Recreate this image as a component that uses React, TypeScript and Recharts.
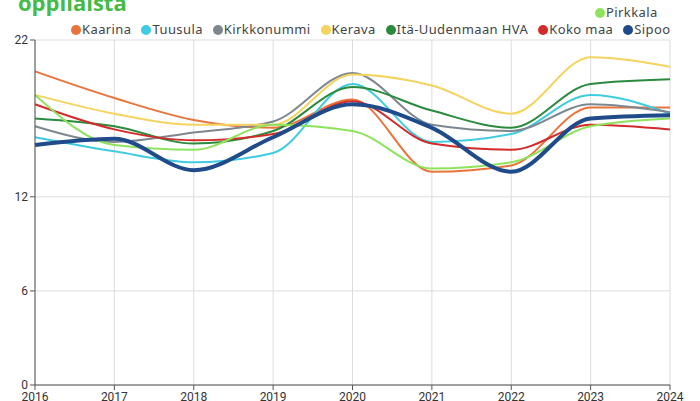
import { LineChart, Line, XAxis, YAxis, CartesianGrid } from "recharts";

const years = [2016, 2017, 2018, 2019, 2020, 2021, 2022, 2023, 2024];

const kaarina = [20.0, 18.3, 16.9, 16.4, 18.2, 13.6, 14.0, 17.7, 17.7];
const tuusula = [15.8, 14.9, 14.2, 14.8, 19.2, 15.5, 16.0, 18.5, 17.3];
const kirkkonummi = [16.5, 15.5, 16.1, 16.8, 19.9, 16.6, 16.2, 17.9, 17.4];
const kerava = [18.5, 17.3, 16.6, 16.6, 19.8, 19.1, 17.3, 20.9, 20.3];
const itaUusimaa = [17.0, 16.5, 15.4, 16.2, 19.0, 17.5, 16.4, 19.2, 19.5];
const kokoMaa = [17.9, 16.3, 15.6, 16.0, 18.1, 15.4, 15.0, 16.6, 16.3];
const sipoo = [15.3, 15.7, 13.7, 15.8, 17.9, 16.4, 13.6, 17.0, 17.2];
const pirkkala = [18.5, 15.3, 15.0, 16.6, 16.2, 13.8, 14.2, 16.5, 17.0];

const series = [
  { key: "kaarina", name: "Kaarina", color: "#e8743b", values: kaarina, width: 2 },
  { key: "tuusula", name: "Tuusula", color: "#3fcbe0", values: tuusula, width: 2 },
  { key: "kirkkonummi", name: "Kirkkonummi", color: "#7d878f", values: kirkkonummi, width: 2 },
  { key: "kerava", name: "Kerava", color: "#f4d35e", values: kerava, width: 2 },
  { key: "ita", name: "Itä-Uudenmaan HVA", color: "#2b8a3e", values: itaUusimaa, width: 2 },
  { key: "koko", name: "Koko maa", color: "#d42a2a", values: kokoMaa, width: 2 },
  { key: "pirkkala", name: "Pirkkala", color: "#8ee35c", values: pirkkala, width: 2 },
  { key: "sipoo", name: "Sipoo", color: "#1f4b8a", values: sipoo, width: 4 },
];

const data = years.map((year, i) => {
  const row: Record<string, number> = { year };
  series.forEach((s) => (row[s.key] = s.values[i]));
  return row;
});

const legendTop = ["pirkkala"];
const legendBottom = ["kaarina", "tuusula", "kirkkonummi", "kerava", "ita", "koko", "sipoo"];

const LegendItem = ({ k }: { k: string }) => {
  const s = series.find((x) => x.key === k)!;
  return (
    <span style={{ display: "inline-flex", alignItems: "center" }}>
      <span
        style={{
          width: 10,
          height: 10,
          borderRadius: "50%",
          background: s.color,
          display: "inline-block",
          marginRight: 1,
        }}
      />
      <span>{s.name}</span>
    </span>
  );
};

const legendFont = {
  fontFamily: "'Noto Sans', sans-serif",
  fontSize: 13,
  letterSpacing: 0.4,
  color: "#444",
  lineHeight: "15px",
  position: "absolute" as const,
  display: "flex",
  gap: 10,
  whiteSpace: "nowrap" as const,
};

const tickStyle = { fontSize: 12, fill: "#333", fontFamily: "'Liberation Sans Narrow', Roboto, sans-serif" };

export default function App() {
  return (
    <div style={{ position: "fixed", left: 0, top: 0, width: 700, height: 401, background: "#fff", overflow: "hidden" }}>
      <div
        style={{
          position: "absolute",
          left: 18,
          top: -13,
          fontFamily: "'Open Sans', sans-serif",
          fontWeight: 700,
          fontSize: 22,
          color: "#44bb44",
        }}
      >
        oppilaista
      </div>
      <div style={{ ...legendFont, left: 595, top: 5 }}>
        {legendTop.map((k) => (
          <LegendItem key={k} k={k} />
        ))}
      </div>
      <div style={{ ...legendFont, left: 71, top: 22 }}>
        {legendBottom.map((k) => (
          <LegendItem key={k} k={k} />
        ))}
      </div>
      <LineChart
        width={700}
        height={401}
        data={data}
        margin={{ top: 40, right: 30, left: 5, bottom: 0 }}
        style={{ position: "absolute", left: 0, top: 0 }}
      >
        <CartesianGrid stroke="#dcdcdc" strokeWidth={1} />
        <XAxis
          dataKey="year"
          type="number"
          domain={[2016, 2024]}
          ticks={years}
          tick={tickStyle}
          tickSize={5}
          stroke="#555"
          height={16}
        />
        <YAxis
          domain={[0, 22]}
          ticks={[0, 6, 12, 22]}
          tick={tickStyle}
          tickSize={5}
          stroke="#555"
          width={30}
        />
        {series.map((s) => (
          <Line
            key={s.key}
            type="monotone"
            dataKey={s.key}
            name={s.name}
            stroke={s.color}
            strokeWidth={s.width}
            dot={false}
            isAnimationActive={false}
          />
        ))}
      </LineChart>
    </div>
  );
}
